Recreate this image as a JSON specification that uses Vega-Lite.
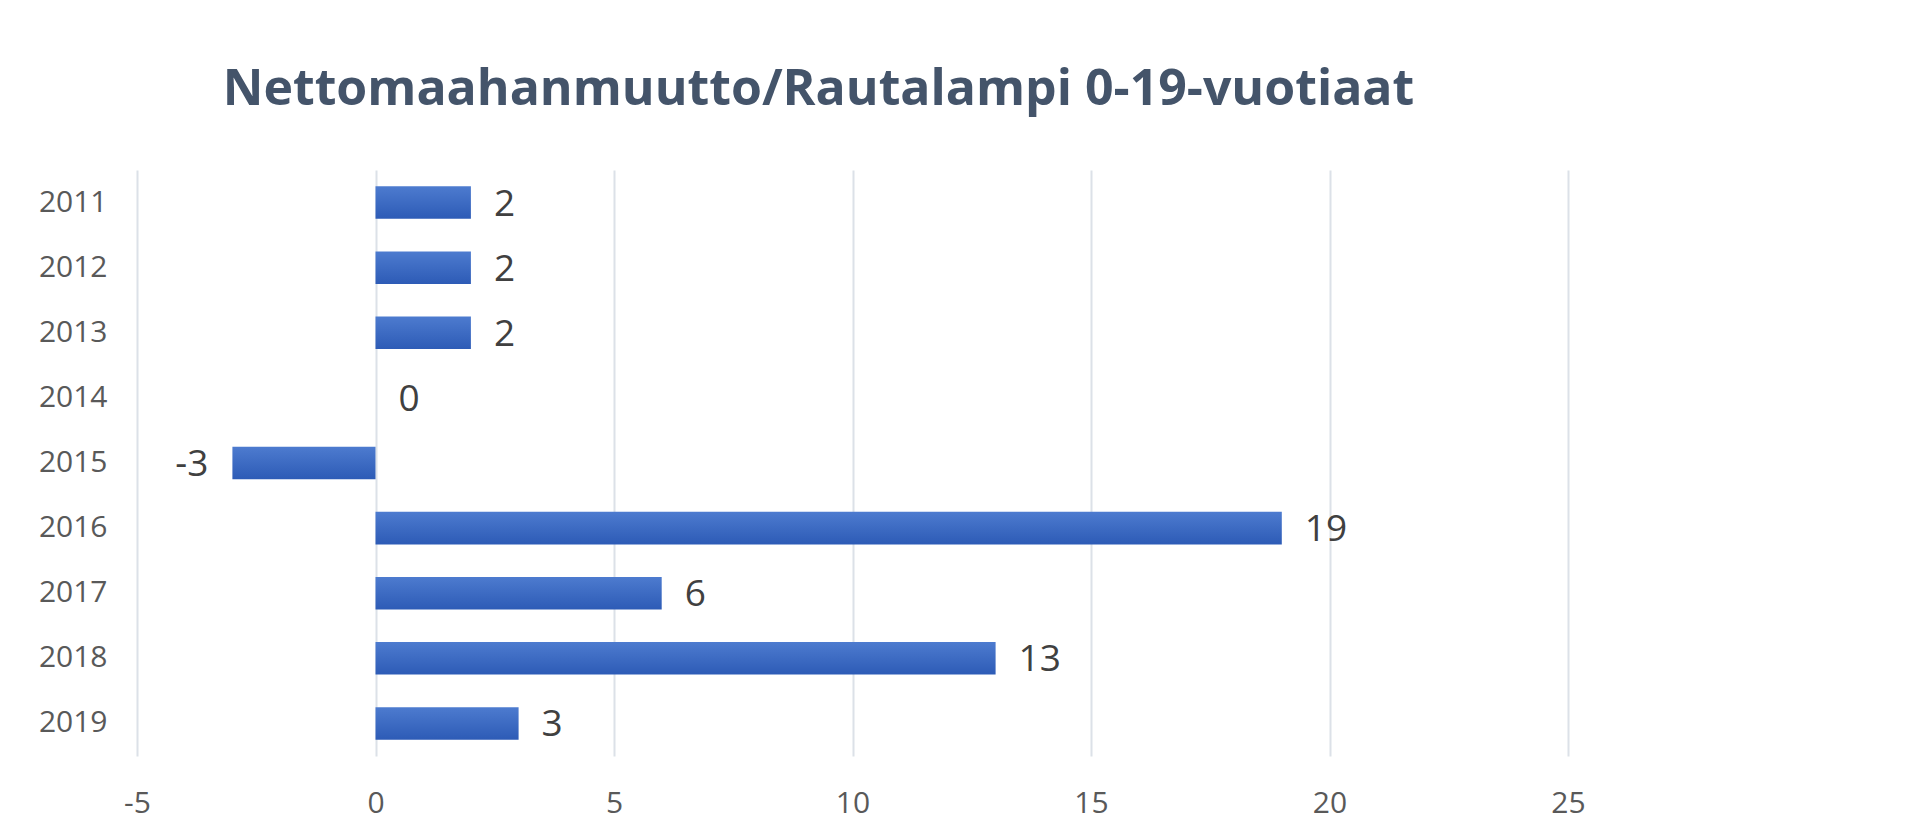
{
  "$schema": "https://vega.github.io/schema/vega-lite/v6.json",
  "autosize": "none",
  "width": 1431,
  "height": 586,
  "padding": {"left": 137, "top": 170, "right": 340, "bottom": 83},
  "background": "#ffffff",
  "title": {
    "text": "Nettomaahanmuutto/Rautalampi 0-19-vuotiaat",
    "font": "Open Sans",
    "fontSize": 50,
    "fontWeight": "bold",
    "color": "#44546a",
    "anchor": "middle",
    "dx": -34,
    "offset": 55
  },
  "config": {
    "view": {"stroke": null},
    "font": "Open Sans",
    "locale": {
      "number": {
        "decimal": ".",
        "thousands": ",",
        "grouping": [3],
        "currency": ["", ""],
        "minus": "-"
      }
    }
  },
  "data": {
    "values": [
      {"year": "2011", "value": 2},
      {"year": "2012", "value": 2},
      {"year": "2013", "value": 2},
      {"year": "2014", "value": 0},
      {"year": "2015", "value": -3},
      {"year": "2016", "value": 19},
      {"year": "2017", "value": 6},
      {"year": "2018", "value": 13},
      {"year": "2019", "value": 3}
    ]
  },
  "encoding": {
    "y": {
      "field": "year",
      "type": "ordinal",
      "sort": null,
      "scale": {"paddingInner": 0.5, "paddingOuter": 0.25},
      "axis": {
        "title": null,
        "domain": false,
        "ticks": false,
        "labelFont": "Open Sans",
        "labelFontSize": 30,
        "labelColor": "#595959",
        "labelPadding": 30
      }
    },
    "x": {
      "field": "value",
      "type": "quantitative",
      "scale": {"domain": [-5, 25], "nice": false, "zero": false},
      "axis": {
        "title": null,
        "values": [-5, 0, 5, 10, 15, 20, 25],
        "domain": false,
        "ticks": false,
        "grid": true,
        "gridColor": "#dce1e8",
        "gridWidth": 2,
        "labelFont": "Open Sans",
        "labelFontSize": 30,
        "labelColor": "#595959",
        "labelBaseline": "middle",
        "labelPadding": 47,
        "labelFlush": false
      }
    }
  },
  "layer": [
    {
      "mark": {
        "type": "bar",
        "color": {
          "gradient": "linear",
          "x1": 0, "y1": 0, "x2": 0, "y2": 1,
          "stops": [
            {"offset": 0, "color": "#4d7bcf"},
            {"offset": 1, "color": "#2d5bb6"}
          ]
        }
      }
    },
    {
      "transform": [{"filter": "datum.value >= 0"}],
      "mark": {
        "type": "text",
        "align": "left",
        "baseline": "middle",
        "dx": 23,
        "dy": 2,
        "font": "Open Sans",
        "fontSize": 37,
        "color": "#404040"
      },
      "encoding": {"text": {"field": "value", "type": "quantitative"}}
    },
    {
      "transform": [{"filter": "datum.value < 0"}],
      "mark": {
        "type": "text",
        "align": "right",
        "baseline": "middle",
        "dx": -24,
        "dy": 2,
        "font": "Open Sans",
        "fontSize": 37,
        "color": "#404040"
      },
      "encoding": {"text": {"field": "value", "type": "quantitative"}}
    }
  ]
}
